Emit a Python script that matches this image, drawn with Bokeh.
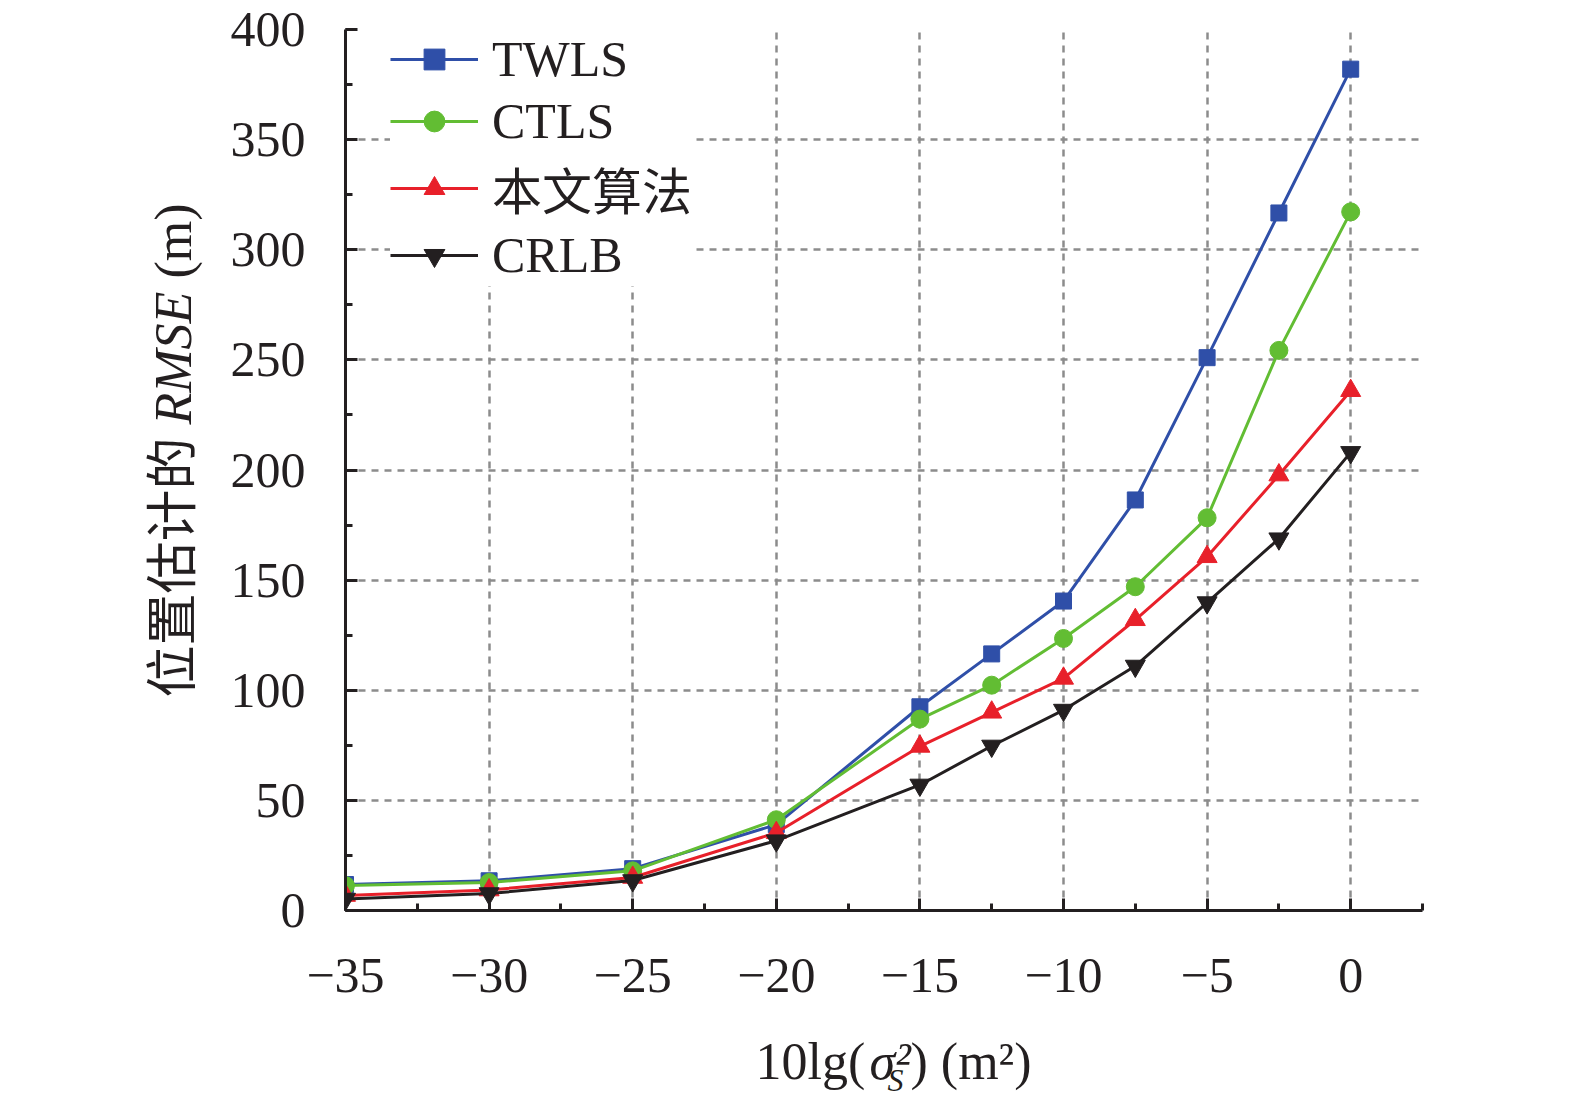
from bokeh.plotting import figure
from bokeh.models import (Range1d, SingleIntervalTicker, FixedTicker, CustomJSTickFormatter,
                          Legend, LegendItem, Title)
from bokeh.embed import file_html
from bokeh.resources import INLINE

# ---------------- data ----------------
x_vals = [-35, -30, -25, -20, -15, -12.5, -10, -7.5, -5, -2.5, 0]
twls = [11.8, 13.5, 19.0, 39.0, 92.5, 116.5, 140.5, 186.4, 251.0, 316.7, 382.0]
ctls = [11.3, 12.7, 18.0, 41.2, 86.9, 102.3, 123.5, 147.0, 178.3, 254.3, 317.2]
ours = [6.8, 9.3, 15.0, 35.3, 74.5, 90.0, 105.4, 132.0, 160.6, 197.7, 236.0]
crlb = [5.2, 7.7, 13.6, 31.7, 57.0, 74.7, 91.0, 111.0, 139.8, 168.8, 208.0]

series_names = ["TWLS", "CTLS", "本文算法", "CRLB"]
series_vals = [twls, ctls, ours, crlb]
series_colors = ["#2f4fa8", "#62bd33", "#e8202a", "#231f20"]
series_markers = ["square", "circle", "triangle", "inverted_triangle"]
series_sizes = [16, 18, 20, 20]

y_grid = [50, 100, 150, 200, 250, 300, 350]
x_grid = [-30, -25, -20, -15, -10, -5, 0]

SERIF = "'Liberation Serif'"
SERIF_CJK = "'Liberation Serif', 'Noto Sans CJK SC'"
INK = "#231f20"

# frame placement (page pixels)
FL, FT, FR, FB = 345, 29, 1422, 913
W, H = 1559, 1098
p = figure(width=W, height=H, output_backend="svg", toolbar_location=None,
           x_range=Range1d(-35, 2.5), y_range=Range1d(0, 400),
           min_border_left=FL, min_border_right=W - FR,
           min_border_top=FT, min_border_bottom=H - FB)
p.outline_line_color = None

for ax in (p.xaxis[0], p.yaxis[0]):
    ax.axis_line_width = 3
    ax.axis_line_color = INK
    ax.major_tick_line_width = 3
    ax.minor_tick_line_width = 3
    ax.major_tick_line_color = INK
    ax.minor_tick_line_color = INK
    ax.major_tick_in = 12
    ax.major_tick_out = 0
    ax.minor_tick_in = 7
    ax.minor_tick_out = 0
    ax.major_label_text_font = SERIF
    ax.major_label_text_font_size = "50px"
    ax.major_label_text_color = INK

p.xaxis[0].ticker = SingleIntervalTicker(interval=5, num_minor_ticks=2)
p.yaxis[0].ticker = SingleIntervalTicker(interval=50, num_minor_ticks=2)
p.xaxis[0].formatter = CustomJSTickFormatter(code="return tick < 0 ? '\u2212' + Math.abs(tick) : String(tick);")
p.xaxis[0].major_label_standoff = 48
p.yaxis[0].major_label_standoff = 40

p.xgrid[0].ticker = FixedTicker(ticks=x_grid)
p.ygrid[0].ticker = FixedTicker(ticks=y_grid)
for g in (p.xgrid[0], p.ygrid[0]):
    g.grid_line_color = "#8c8c8c"
    g.grid_line_width = 2.5
    g.grid_line_dash = "7 6"

items = []
for name, vals, col, mk, sz in zip(series_names, series_vals, series_colors, series_markers, series_sizes):
    lr = p.line(x_vals, vals, line_color=col, line_width=3)
    sr = p.scatter(x_vals, vals, marker=mk, size=sz, fill_color=col, line_color=col)
    items.append(LegendItem(label=name, renderers=[lr, sr]))

legend = Legend(items=items, location=(45, 624), padding=10, margin=0, spacing=0,
                glyph_width=88, glyph_height=52, label_height=62, label_standoff=14,
                label_text_font=SERIF_CJK, label_text_font_size="50px", label_text_color=INK,
                label_text_line_height=1.0,
                background_fill_color="white", background_fill_alpha=1.0,
                border_line_color=None)
p.add_layout(legend)

# ---------- axis titles: pieces stacked as Titles in the side panels ----------
def hgt(size):
    return 1.107 * size

def piece(side, text, size, style, offset, strip, font=SERIF):
    # strip = thickness that this title adds to its panel
    standoff = strip - 2 - hgt(size)
    p.add_layout(Title(text=text, align="left", offset=offset, vertical_align="middle",
                       standoff=standoff, text_font=font, text_font_size=f"{size}px",
                       text_font_style=style, text_color=INK), side)

# x title: 10lg(σ_S^2) (m²)
c_main, c_sub = 1056.4, 1072.4
piece("below", " ", 10, "normal", 0, 67.3)
piece("below", "10lg(", 52, "normal", 755 - FL, 0)
piece("below", "σ²", 52, "italic", 869 - FL, 0)
piece("below", ") (m²)", 52, "normal", 910 - FL, 0)
piece("below", "S", 32, "italic", 887 - FL, 2 * (c_sub - c_main) + 4)

# y title: 位置估计的 RMSE (m)
T_axis_l = FL - (40 + 75)
c_y = 176
piece("left", " ", 10, "normal", 0, T_axis_l - c_y)
piece("left", "位置估计的", 52, "normal", FB - 700, 0, font=SERIF_CJK)
piece("left", "RMSE", 52, "italic", FB - 427, 0)
piece("left", "(m)", 52, "normal", FB - 281, 0)

open("out.html", "w").write(file_html(p, INLINE))
